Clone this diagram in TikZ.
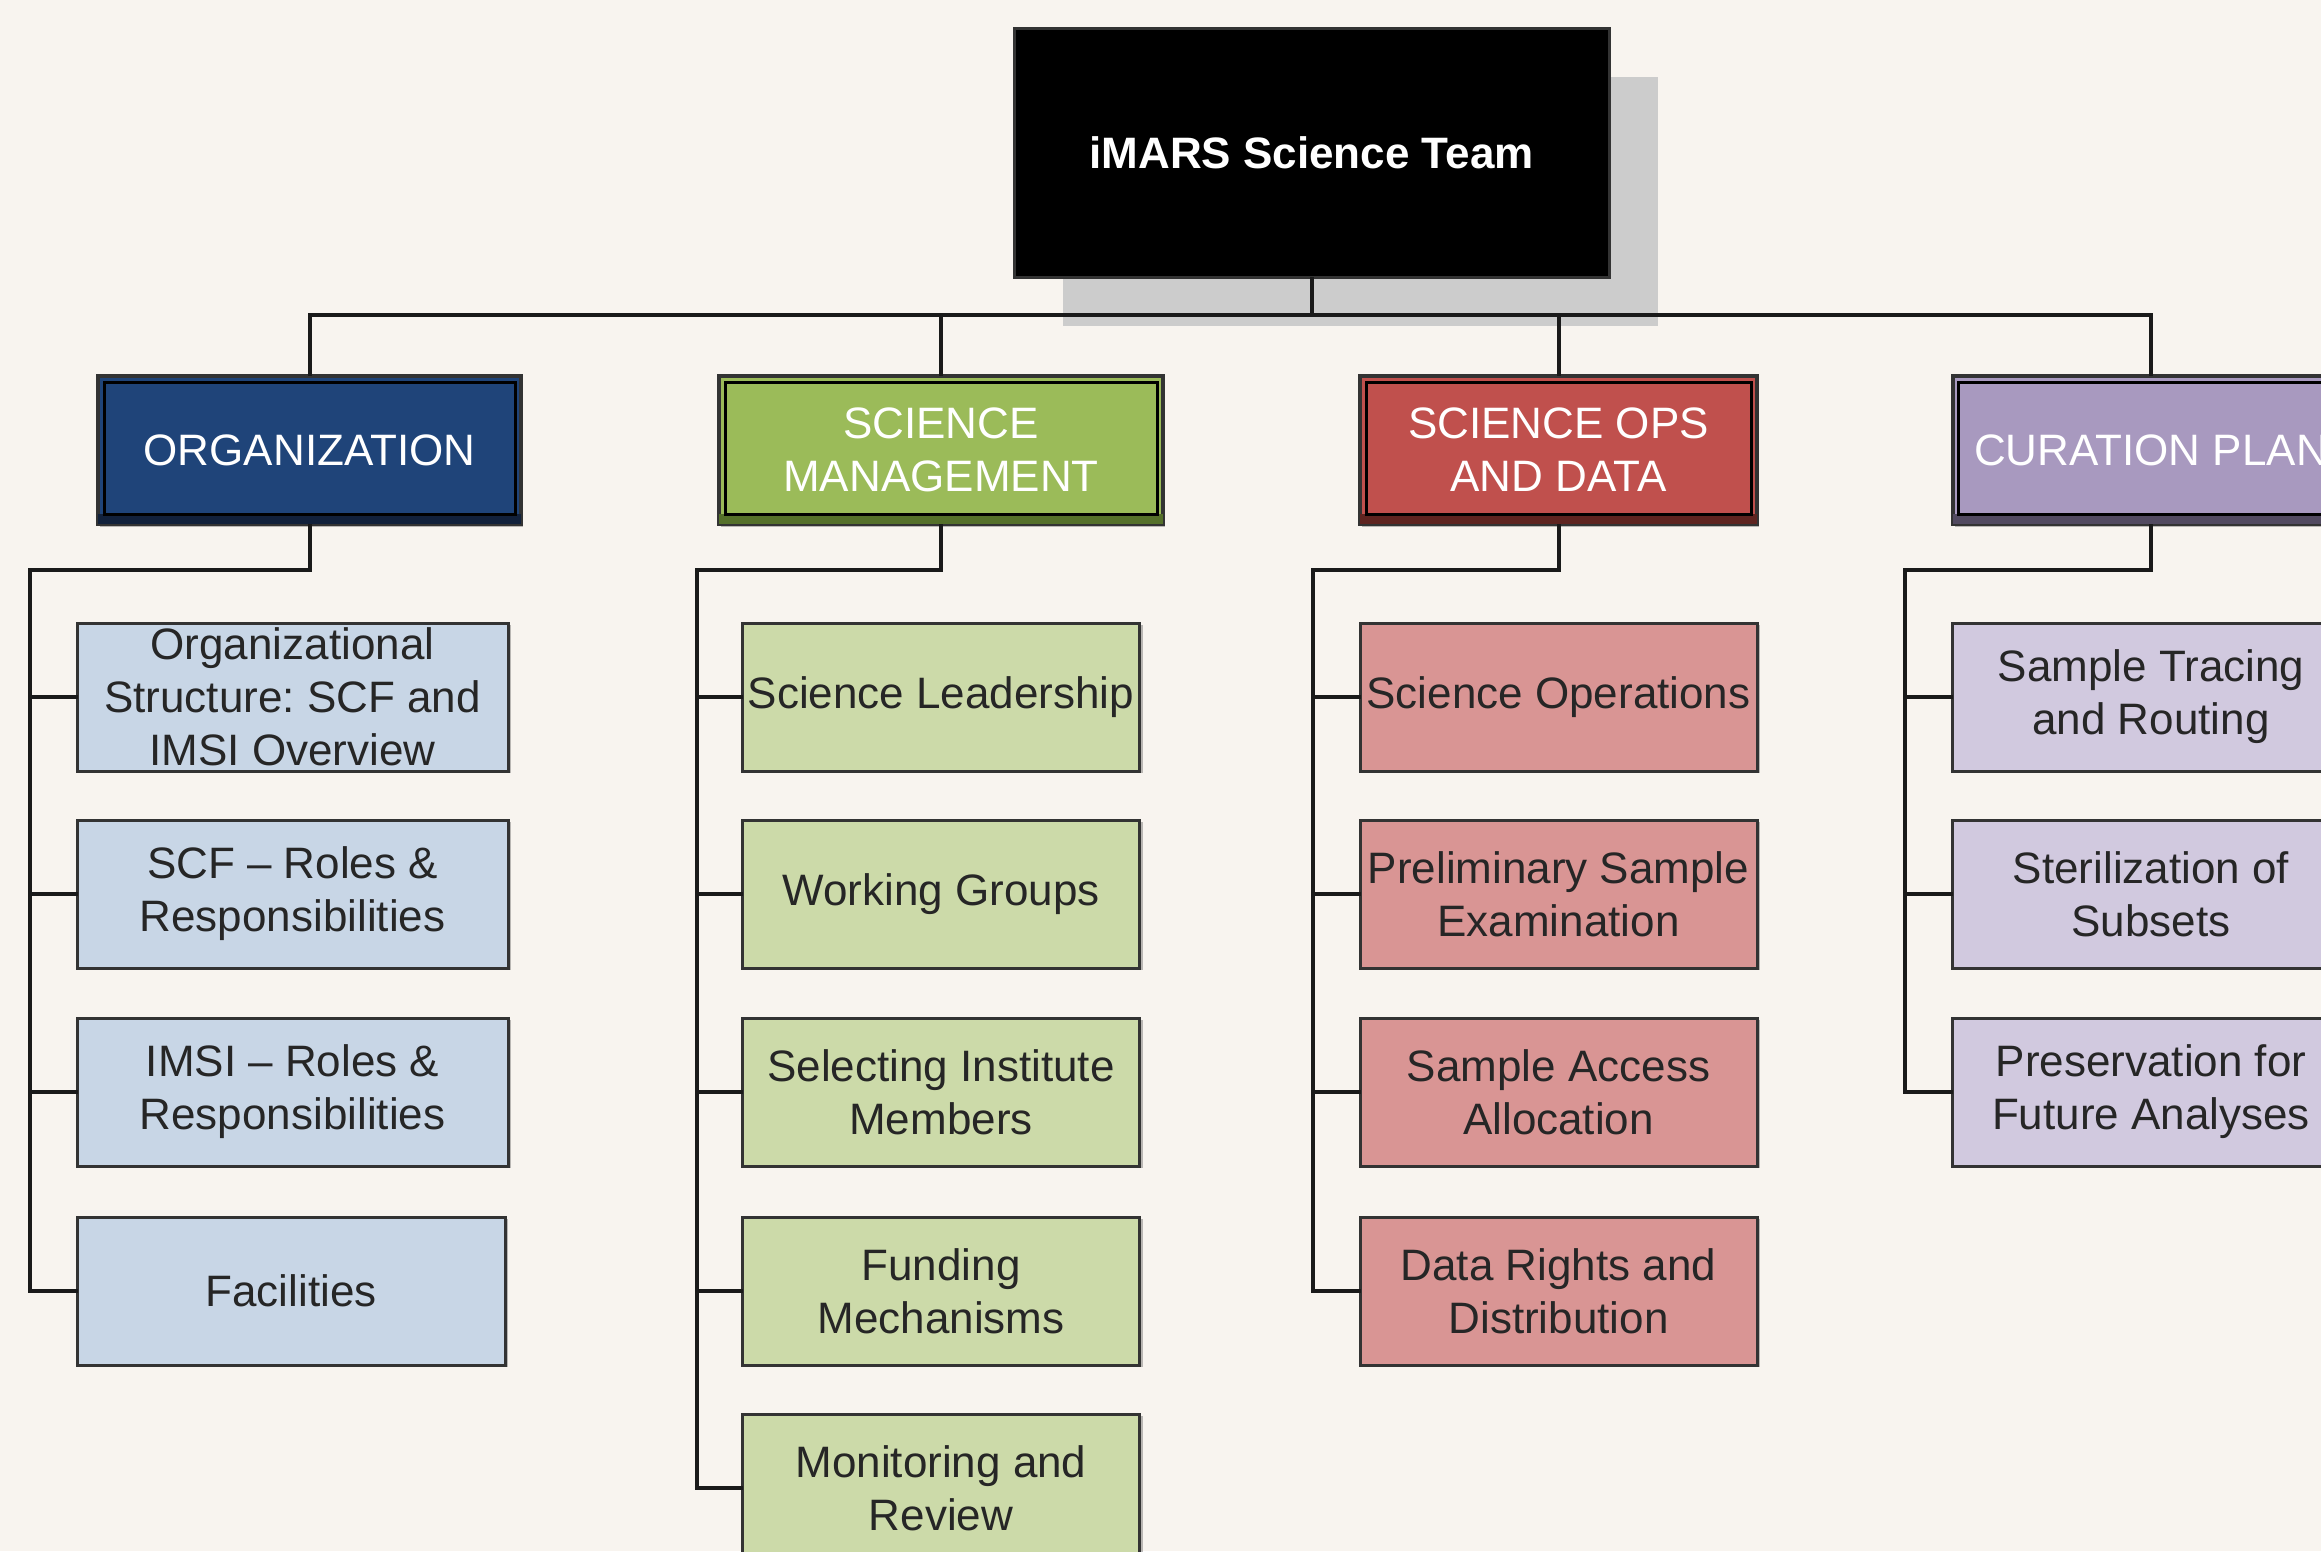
\documentclass[tikz,border=0pt]{standalone}
\usepackage{fontspec}
\setmainfont{Liberation Sans}
\usetikzlibrary{shadows}
\definecolor{bg}{HTML}{F8F4EF}
\definecolor{orgC}{HTML}{1F4479}\definecolor{orgL}{HTML}{C8D6E6}\definecolor{orgD}{HTML}{12213B}
\definecolor{smC}{HTML}{9BBB59}\definecolor{smL}{HTML}{CCDAA9}\definecolor{smD}{HTML}{55702A}
\definecolor{opsC}{HTML}{C0504D}\definecolor{opsL}{HTML}{D99594}\definecolor{opsD}{HTML}{5E2420}
\definecolor{curC}{HTML}{A899BF}\definecolor{curL}{HTML}{D1C9DF}\definecolor{curD}{HTML}{524A60}
\definecolor{txt}{HTML}{262626}
\definecolor{edge}{HTML}{333333}
\definecolor{conncol}{HTML}{1A1A1A}
\frenchspacing
\begin{document}
\begin{tikzpicture}[x=1pt,y=-1pt,
  basefont/.style={font=\fontsize{44}{53}\selectfont},
  topbox/.style={basefont, fill=black, draw=edge, line width=3, minimum width=595, minimum height=249, inner sep=0, text=white, font=\fontsize{44}{53}\selectfont\bfseries},
  headbox/.style={basefont, fill=#1, draw=edge, line width=4, minimum height=148, inner sep=0, align=center, text=white,
     drop shadow={shadow xshift=2pt, shadow yshift=-3pt, fill=black, opacity=0.25}},
  childbox/.style={basefont, fill=#1, draw=edge, line width=3, minimum width=397, minimum height=148, inner sep=0, align=center, text=txt,
     drop shadow={shadow xshift=3pt, shadow yshift=-2pt, fill=black, opacity=0.25}},
  conn/.style={draw=conncol, line width=4, line cap=rect},
  inner/.style={draw=black, line width=3}
]
\fill[bg] (0,0) rectangle (2321,1551);
\useasboundingbox (0,0) rectangle (2321,1551);

% top box with shadow
\fill[black!20] (1063,77) rectangle (1658,326);
\node[topbox] (top) at (1311.5,152.5) {iMARS Science Team};

% headers
\node[headbox=orgC, minimum width=423] (org) at (309.5,450) {ORGANIZATION};
\node[headbox=smC, minimum width=444] (sm) at (941,450) {SCIENCE\\MANAGEMENT};
\node[headbox=opsC, minimum width=397] (ops) at (1558.5,450) {SCIENCE OPS\\AND DATA};
\node[headbox=curC, minimum width=397] (cur) at (2151,450) {CURATION PLAN};

% header bevels
\foreach \h/\d in {org/orgD, sm/smD, ops/opsD, cur/curD}{
  \fill[\d] ([shift={(2,-12)}]\h.south west) rectangle ([shift={(-2,-2)}]\h.south east);
  \draw[inner] ([shift={(8,8)}]\h.north west) rectangle ([shift={(-8,-12)}]\h.south east);
}

% children
\node[childbox=orgL, minimum width=431] (org1) at (292.5,697) {Organizational\\Structure: SCF and\\IMSI Overview};
\node[childbox=orgL, minimum width=431] (org2) at (292.5,894) {SCF – Roles \&\\Responsibilities};
\node[childbox=orgL, minimum width=431] (org3) at (292.5,1092) {IMSI – Roles \&\\Responsibilities};
\node[childbox=orgL, minimum width=428] (org4) at (291,1291) {Facilities};

\node[childbox=smL] (sm1) at (941,697) {Science Leadership};
\node[childbox=smL] (sm2) at (941,894) {Working Groups};
\node[childbox=smL] (sm3) at (941,1092) {Selecting Institute\\Members};
\node[childbox=smL] (sm4) at (941,1291) {Funding\\Mechanisms};
\node[childbox=smL] (sm5) at (941,1488) {Monitoring and\\Review};

\node[childbox=opsL] (ops1) at (1558.5,697) {Science Operations};
\node[childbox=opsL] (ops2) at (1558.5,894) {Preliminary Sample\\Examination};
\node[childbox=opsL] (ops3) at (1558.5,1092) {Sample Access\\Allocation};
\node[childbox=opsL] (ops4) at (1558.5,1291) {Data Rights and\\Distribution};

\node[childbox=curL] (cur1) at (2151,697) {Sample Tracing\\and Routing};
\node[childbox=curL] (cur2) at (2151,894) {Sterilization of\\Subsets};
\node[childbox=curL] (cur3) at (2151,1092) {Preservation for\\Future Analyses};

% bus
\coordinate (bus) at (0,315);
\draw[conn] (org.north) -- (org.north |- bus) -- (cur.north |- bus) -- (cur.north);
\draw[conn] (sm.north) -- (sm.north |- bus);
\draw[conn] (ops.north) -- (ops.north |- bus);
\draw[conn] (top.south) -- (top.south |- bus);

% elbows and trunks
\coordinate (orgT) at (30,570);
\coordinate (smT) at (697,570);
\coordinate (opsT) at (1313,570);
\coordinate (curT) at (1905,570);

\draw[conn] (org.south) |- (orgT) -- (orgT |- org4.west) -- (org4.west);
\foreach \c in {org1,org2,org3}{\draw[conn] (orgT |- \c.west) -- (\c.west);}

\draw[conn] (sm.south) |- (smT) -- (smT |- sm5.west) -- (sm5.west);
\foreach \c in {sm1,sm2,sm3,sm4}{\draw[conn] (smT |- \c.west) -- (\c.west);}

\draw[conn] (ops.south) |- (opsT) -- (opsT |- ops4.west) -- (ops4.west);
\foreach \c in {ops1,ops2,ops3}{\draw[conn] (opsT |- \c.west) -- (\c.west);}

\draw[conn] (cur.south) |- (curT) -- (curT |- cur3.west) -- (cur3.west);
\foreach \c in {cur1,cur2}{\draw[conn] (curT |- \c.west) -- (\c.west);}
\end{tikzpicture}
\end{document}
